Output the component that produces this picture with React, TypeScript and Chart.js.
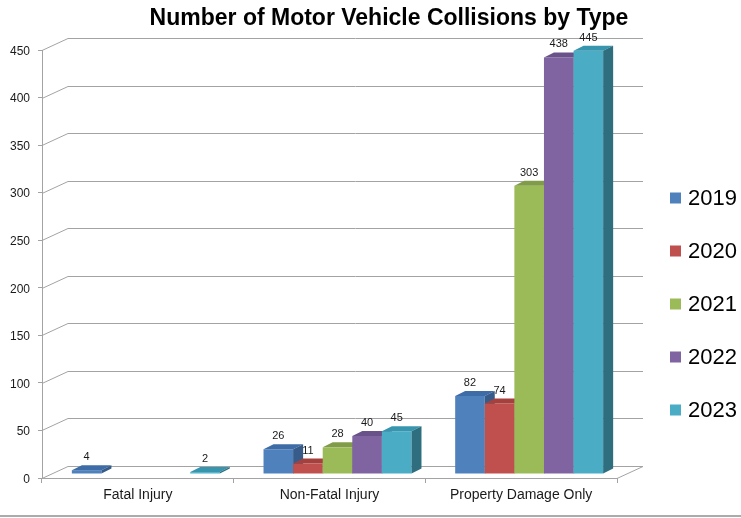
import React, { useEffect, useRef } from "react";
import { Chart, registerables } from "chart.js";

Chart.register(...registerables);

// ---- data ----
const categories = ["Fatal Injury", "Non-Fatal Injury", "Property Damage Only"];
const seriesNames = ["2019", "2020", "2021", "2022", "2023"];
const values2019 = [4, 26, 82];
const values2020 = [null, 11, 74];
const values2021 = [null, 28, 303];
const values2022 = [null, 40, 438];
const values2023 = [2, 45, 445];
const seriesValues = [values2019, values2020, values2021, values2022, values2023];
const yMin = 0;
const yMax = 450;
const yStep = 50;
const titleText = "Number of Motor Vehicle Collisions by Type";

// ---- styles ----
const FONT = "'Liberation Sans', Arial, sans-serif";
const frontColors = ["#4F81BD", "#C0504D", "#9BBB59", "#8064A2", "#4BACC6"];
const topColors = ["#3E6CA6", "#A6403D", "#809C48", "#69518A", "#3796AE"];
const sideColors = ["#375C89", "#8B3A38", "#6F863F", "#5B4877", "#2F6E7E"];
const GRID = "#a3a3a3";
const WALL_DX = 26;
const WALL_DY = -12.5;
const BAR_SHIFT_X = 8;
const BAR_SHIFT_Y = -4;
const BAR_DX = 10;
const BAR_DY = -5;

const threeD = {
  id: "threeD",
  beforeDatasetsDraw(chart: any) {
    const { ctx, chartArea, scales } = chart;
    const y = scales.y;
    const { left, right } = chartArea;
    ctx.save();
    ctx.strokeStyle = GRID;
    ctx.lineWidth = 1;
    for (let v = yMin; v <= yMax; v += yStep) {
      const py = Math.round(y.getPixelForValue(v)) + 0.5;
      const by = Math.round(py + WALL_DY) + 0.5;
      ctx.beginPath();
      ctx.moveTo(left, py);
      ctx.lineTo(left + WALL_DX, by);
      ctx.lineTo(right + WALL_DX, by);
      if (v === yMin) {
        ctx.lineTo(right, py);
      }
      ctx.stroke();
    }
    ctx.restore();
  },
  beforeDatasetDraw() {
    // bars are drawn below, in series order, so the 3D faces overlap correctly
    return false;
  },
  afterDatasetsDraw(chart: any) {
    const { ctx } = chart;
    ctx.save();
    ctx.translate(BAR_SHIFT_X, BAR_SHIFT_Y);
    chart.data.datasets.forEach((ds: any, i: number) => {
      const meta = chart.getDatasetMeta(i);
      meta.data.forEach((el: any, j: number) => {
        const val = ds.data[j];
        if (val === null || val === undefined) return;
        el.draw(ctx);
        const w = el.width;
        const l = el.x - w / 2;
        const r = el.x + w / 2;
        const t = el.y;
        const b = el.base;
        ctx.fillStyle = topColors[i];
        ctx.beginPath();
        ctx.moveTo(l, t);
        ctx.lineTo(l + BAR_DX, t + BAR_DY);
        ctx.lineTo(r + BAR_DX, t + BAR_DY);
        ctx.lineTo(r, t);
        ctx.closePath();
        ctx.fill();
        ctx.fillStyle = sideColors[i];
        ctx.beginPath();
        ctx.moveTo(r, t);
        ctx.lineTo(r + BAR_DX, t + BAR_DY);
        ctx.lineTo(r + BAR_DX, b + BAR_DY);
        ctx.lineTo(r, b);
        ctx.closePath();
        ctx.fill();
      });
    });
    ctx.restore();

    ctx.save();
    ctx.fillStyle = "#1a1a1a";
    ctx.font = `11px ${FONT}`;
    ctx.textAlign = "center";
    ctx.textBaseline = "middle";
    chart.data.datasets.forEach((ds: any, i: number) => {
      const meta = chart.getDatasetMeta(i);
      meta.data.forEach((el: any, j: number) => {
        const val = ds.data[j];
        if (val === null || val === undefined) return;
        ctx.fillText(String(val), el.x + BAR_SHIFT_X, el.y + BAR_SHIFT_Y - 13);
      });
    });
    ctx.restore();
  },
  afterDraw(chart: any) {
    const { ctx } = chart;
    ctx.save();
    // title
    ctx.fillStyle = "#000";
    ctx.font = `bold 23px ${FONT}`;
    ctx.textAlign = "center";
    ctx.textBaseline = "middle";
    ctx.fillText(titleText, 389, 18.8);
    // legend
    ctx.font = `22px ${FONT}`;
    ctx.textAlign = "left";
    ctx.textBaseline = "middle";
    chart.data.datasets.forEach((ds: any, i: number) => {
      const cy = 198 + 53 * i;
      ctx.fillStyle = frontColors[i];
      ctx.fillRect(670, cy - 5.5, 11, 11);
      ctx.fillStyle = "#000";
      ctx.fillText(ds.label, 688, cy + 1);
    });
    // outer bottom border
    ctx.strokeStyle = "#8f8f8f";
    ctx.lineWidth = 1.5;
    ctx.beginPath();
    ctx.moveTo(0, 516);
    ctx.lineTo(chart.width, 516);
    ctx.stroke();
    ctx.restore();
  },
};

export default function App() {
  const ref = useRef<HTMLCanvasElement | null>(null);
  useEffect(() => {
    if (!ref.current) return;
    const datasets = seriesNames.map((name, i) => ({
      label: name,
      data: seriesValues[i],
      backgroundColor: frontColors[i],
      borderWidth: 0,
      clip: false as any,
      categoryPercentage: 0.772,
      barPercentage: 1,
    }));
    const chart = new Chart(ref.current, {
      type: "bar",
      data: { labels: categories, datasets },
      plugins: [threeD],
      options: {
        responsive: false,
        animation: false,
        events: [],
        layout: { padding: { left: 0, right: 0, top: 50, bottom: 0 } },
        plugins: {
          legend: { display: false },
          tooltip: { enabled: false },
          title: { display: false },
        },
        scales: {
          x: {
            type: "category",
            grid: {
              display: true,
              drawOnChartArea: false,
              drawTicks: true,
              tickLength: 5,
              color: GRID,
              offset: true,
            },
            border: { display: true, color: GRID },
            ticks: { font: { size: 14, family: FONT }, color: "#1a1a1a", padding: 4, maxRotation: 0 },
            afterFit(s: any) {
              s.height = 40;
            },
          },
          y: {
            type: "linear",
            min: yMin,
            max: yMax,
            grid: { drawOnChartArea: false, drawTicks: true, tickLength: 4, color: GRID },
            border: { display: true, color: GRID },
            ticks: {
              stepSize: yStep,
              font: { size: 12, family: FONT },
              color: "#1a1a1a",
              padding: 8,
              labelOffset: 1.5,
            },
            afterFit(s: any) {
              s.width = 42;
            },
          },
          y2: {
            type: "linear",
            position: "right",
            display: true,
            grid: { display: false },
            border: { display: false },
            ticks: { display: false },
            afterFit(s: any) {
              s.width = 124;
            },
          },
        },
      } as any,
    });
    return () => chart.destroy();
  }, []);
  return (
    <div style={{ position: "absolute", left: 0, top: 0, width: 741, height: 518, background: "#fff" }}>
      <canvas ref={ref} width={741} height={518} style={{ display: "block" }} />
    </div>
  );
}
